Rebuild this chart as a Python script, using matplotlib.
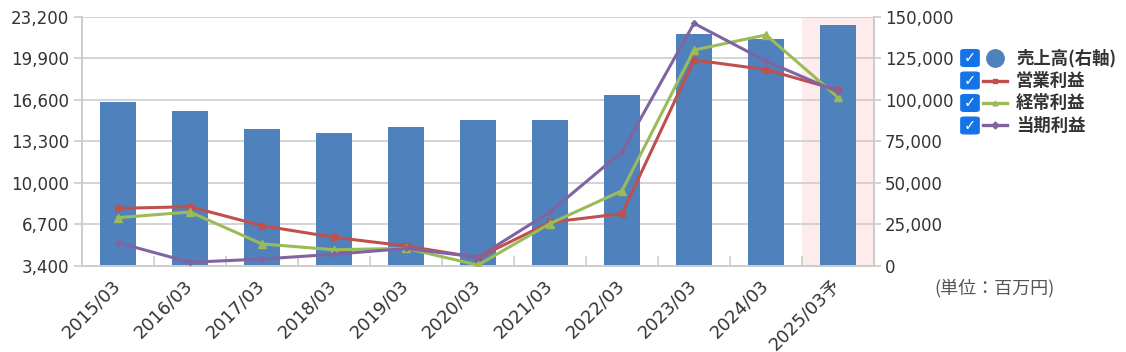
import matplotlib
matplotlib.use("Agg")
import matplotlib.pyplot as plt
from matplotlib.lines import Line2D
from matplotlib.patches import FancyBboxPatch
from matplotlib.ticker import FuncFormatter
import numpy as np

plt.rcParams["font.family"] = ["DejaVu Sans", "Noto Sans CJK JP"]

periods = ["2015/03", "2016/03", "2017/03", "2018/03", "2019/03", "2020/03",
           "2021/03", "2022/03", "2023/03", "2024/03", "2025/03予"]
sales = [98800, 93200, 82300, 79800, 83400, 87800, 87800, 103000, 139400, 136600, 144800]
operating = [7960, 8090, 6580, 5660, 4970, 4040, 6850, 7540, 19760, 18990, 17370]
ordinary = [7220, 7670, 5130, 4670, 4780, 3450, 6750, 9360, 20550, 21750, 16790]
net = [5230, 3670, 3930, 4310, 4770, 4080, 7670, 12460, 22670, 19670, 17210]

left_ticks = [3400, 6700, 10000, 13300, 16600, 19900, 23200]
right_ticks = [0, 25000, 50000, 75000, 100000, 125000, 150000]

C_BAR = "#4f81bd"
C_OP = "#c0504d"
C_ORD = "#9bbb59"
C_NET = "#8064a2"
GRID = "#cccccc"
TXT = "#333333"

fig = plt.figure(figsize=(11.26, 3.52), dpi=100)
ax = fig.add_axes([82 / 1126, 1 - 265.7 / 352, 792 / 1126, 249 / 352])
x = np.arange(len(periods))

# bars on the right-hand axis
ax.axvspan(9.5, 10.5, color="#fdeceb", zorder=0, lw=0)
ax.bar(x, sales, width=0.5, color=C_BAR, zorder=2)
ax.set_ylim(0, 150000)
ax.set_yticks(right_ticks)
ax.yaxis.set_major_formatter(FuncFormatter(lambda v, p: f"{v:,.0f}"))
ax.grid(axis="y", color=GRID, lw=1.2, zorder=1)
ax.set_axisbelow(True)
ax.set_xlim(-0.5, 10.5)
ax.set_xticks(x)
ax.set_xticklabels(periods, rotation=45, ha="right", va="center",
                   rotation_mode="anchor", fontsize=13, color=TXT,
                   family=["DejaVu Sans", "Noto Sans CJK JP"])
ax.tick_params(axis="x", length=0, pad=12)
ax.set_xticks(np.arange(0.5, 10.5, 1), minor=True)
ax.tick_params(axis="x", which="minor", direction="in", length=7, color=GRID, width=1.2)

# lines on the left-hand axis
axl = ax.twinx()
axl.plot(x, operating, color=C_OP, lw=2.2, marker="s", ms=4.5, zorder=3)
axl.plot(x, ordinary, color=C_ORD, lw=2.2, marker="^", ms=5.5, zorder=3)
axl.plot(x, net, color=C_NET, lw=2.2, marker="D", ms=3, zorder=3)
axl.set_ylim(3400, 23200)
axl.set_yticks(left_ticks)
axl.yaxis.set_major_formatter(FuncFormatter(lambda v, p: f"{v:,.0f}"))
axl.yaxis.tick_left()
ax.yaxis.tick_right()
for a, ln in ((ax, 5), (axl, 6)):
    a.tick_params(axis="y", length=ln, color=GRID, width=1.2, labelsize=12,
                  labelcolor=TXT, pad=3)

for a in (ax, axl):
    a.spines["top"].set_visible(False)
    for s in ("left", "right", "bottom"):
        a.spines[s].set_color(GRID)
        a.spines[s].set_linewidth(1.2)

# legend with checkboxes
rows = [("売上高(右軸)", C_BAR, "o"), ("営業利益", C_OP, "s"),
        ("経常利益", C_ORD, "^"), ("当期利益", C_NET, "D")]
W, H = 1126, 352
for i, (label, col, mk) in enumerate(rows):
    yc = 1 - (58 + i * 22.5) / H
    box = FancyBboxPatch((962 / W, yc - 8 / H), 16 / W, 16 / H,
                         boxstyle="round,pad=0.001,rounding_size=0.004",
                         transform=fig.transFigure, fc="#1473e6", ec="#1473e6")
    fig.patches.append(box)
    fig.text(970 / W, yc, "✓", color="white", fontsize=10.5, fontweight="bold",
             ha="center", va="center", family="DejaVu Sans")
    if i == 0:
        fig.lines.append(Line2D([995 / W], [yc], transform=fig.transFigure, color=col,
                                marker="o", ms=12.5, lw=0))
    else:
        fig.lines.append(Line2D([983 / W, 1007 / W], [yc, yc], transform=fig.transFigure,
                                color=col, lw=2.4))
        fig.lines.append(Line2D([995 / W], [yc], transform=fig.transFigure, color=col,
                                marker=mk, ms=3.5, lw=0))
    fig.text(1016 / W, yc, label, fontsize=12.5, fontweight="bold", color=TXT,
             ha="left", va="center", family=["Noto Sans CJK JP"])

fig.text(995 / W, 1 - 288 / H, "(単位：百万円)", fontsize=13, color="#555555",
         ha="center", va="center", family=["Noto Sans CJK JP"])

fig.savefig("out.png", dpi=100)
